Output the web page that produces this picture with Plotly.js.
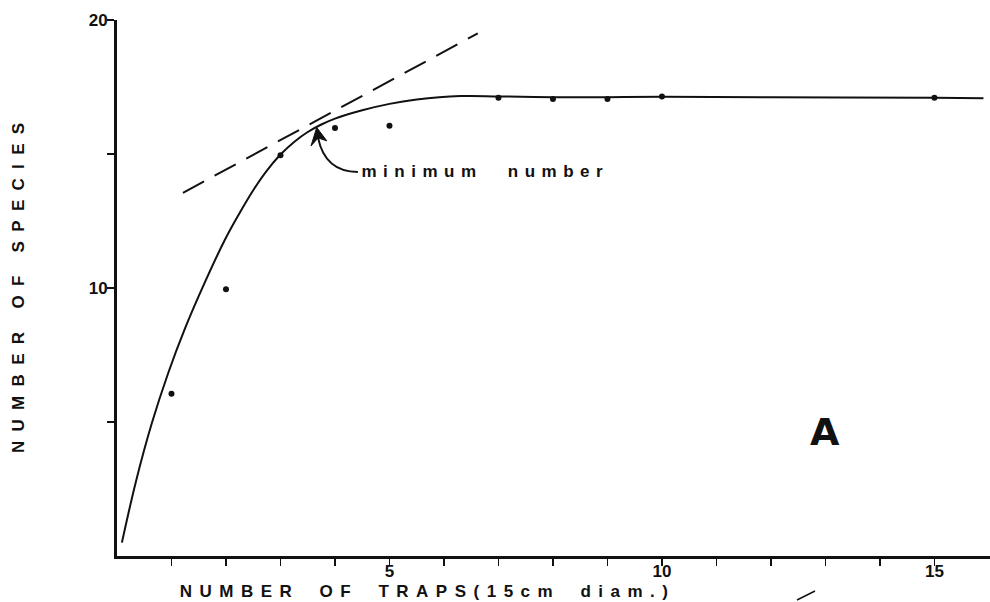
<!DOCTYPE html>
<html>
<head>
<meta charset="utf-8">
<script src="https://cdn.plot.ly/plotly-3.0.1.min.js"></script>
<style>
  html, body { margin: 0; padding: 0; background: #fff; }
  #chart { width: 990px; height: 602px; }
  .annotation[data-index="0"] text { letter-spacing: 7.5px; word-spacing: 8px; }
  .annotation[data-index="1"] text { letter-spacing: 9.3px; word-spacing: 0px; }
  .annotation[data-index="2"] text { letter-spacing: 6.5px; word-spacing: 14px; }
</style>
</head>
<body>
<div id="chart"></div>
<script>
// Observed data points (number of traps vs number of species)
const trapCounts = [1, 2, 3, 4, 5, 7, 8, 9, 10, 15];
const speciesCounts = [6.05, 9.95, 14.95, 15.97, 16.05, 17.1, 17.05, 17.05, 17.15, 17.1];

// Hand-drawn fitted curve
const curveX = [0.09, 0.35, 0.64, 0.94, 1.25, 1.55, 1.98, 2.25, 2.5, 2.75, 3.0, 3.25, 3.5, 3.75, 4.0, 4.5, 5.0, 5.5, 6.3, 7, 8, 9, 10, 12, 15, 15.9];
const curveY = [0.5, 2.8, 4.96, 6.83, 8.5, 9.93, 11.8, 12.8, 13.65, 14.38, 14.98, 15.45, 15.82, 16.1, 16.32, 16.63, 16.87, 17.03, 17.16, 17.15, 17.12, 17.12, 17.14, 17.12, 17.1, 17.08];

// Dashed tangent line
const tangentX = [1.21, 6.62];
const tangentY = [13.55, 19.5];

// Axis ticks
const xTickVals = [1, 2, 3, 4, 5, 6, 7, 8, 9, 10, 11, 12, 13, 14, 15];
const xTickText = ["", "", "", "", "5", "", "", "", "", "10", "", "", "", "", "15"];
const yTickVals = [5, 10, 15, 20];
const yTickText = ["", "10", "", "20"];

const FONT = "Liberation Sans, Arial, Helvetica, sans-serif";

const traces = [
  {
    x: curveX, y: curveY, type: "scatter", mode: "lines",
    line: { color: "#111", width: 2, shape: "spline", smoothing: 1 },
    hoverinfo: "skip", showlegend: false
  },
  {
    x: tangentX, y: tangentY, type: "scatter", mode: "lines",
    line: { color: "#111", width: 2, dash: "24px,12px" },
    hoverinfo: "skip", showlegend: false
  },
  {
    x: trapCounts, y: speciesCounts, type: "scatter", mode: "markers",
    marker: { color: "#111", size: 6 },
    showlegend: false
  }
];

const layout = {
  width: 990, height: 602,
  margin: { l: 117, r: 0, t: 20, b: 46 },
  paper_bgcolor: "#fff", plot_bgcolor: "#fff",
  showlegend: false,
  font: { family: FONT, color: "#111" },
  xaxis: {
    range: [0, 16.02], showgrid: false, zeroline: false,
    showline: true, linecolor: "#111", linewidth: 3,
    ticks: "outside", ticklen: 7, tickwidth: 1.5, tickcolor: "#111",
    tickvals: xTickVals, ticktext: xTickText, ticklabelstandoff: -9,
    tickfont: { family: FONT, size: 17, weight: 700, color: "#111" }
  },
  yaxis: {
    range: [0, 20], showgrid: false, zeroline: false,
    showline: true, linecolor: "#111", linewidth: 3,
    ticks: "outside", ticklen: 7, tickwidth: 1.5, tickcolor: "#111",
    tickvals: yTickVals, ticktext: yTickText, ticklabelstandoff: -4,
    tickfont: { family: FONT, size: 17, weight: 700, color: "#111" }
  },
  annotations: [
    {
      text: "NUMBER OF TRAPS(15cm diam.)", xref: "paper", yref: "paper",
      x: (427 - 117) / 873, y: (556 - 591) / 536, xanchor: "center", yanchor: "middle",
      showarrow: false, font: { family: FONT, size: 17, weight: 700, color: "#111" }
    },
    {
      text: "NUMBER OF SPECIES", xref: "paper", yref: "paper",
      x: (18 - 117) / 873, y: (556 - 284) / 536, xanchor: "center", yanchor: "middle",
      textangle: -90, showarrow: false,
      font: { family: FONT, size: 17, weight: 700, color: "#111" }
    },
    {
      text: "minimum number", xref: "x", yref: "y",
      x: 6.77, y: 14.33, xanchor: "center", yanchor: "middle",
      showarrow: false, font: { family: FONT, size: 17, weight: 700, color: "#111" }
    },
    {
      text: "A", xref: "x", yref: "y",
      x: 12.99, y: 4.63, xanchor: "center", yanchor: "middle",
      showarrow: false, font: { family: "DejaVu Sans, sans-serif", size: 38, weight: 700, color: "#111" }
    }
  ],
  shapes: [
    {
      type: "path", xref: "x", yref: "y",
      path: "M 4.42,14.33 Q 3.82,14.33 3.69,15.6",
      line: { color: "#111", width: 2 }
    },
    {
      type: "path", xref: "x", yref: "y",
      path: "M 3.665,15.99 L 3.56,15.3 L 3.69,15.6 L 3.85,15.49 Z",
      fillcolor: "#111", line: { color: "#111", width: 1 }
    },
    {
      type: "line", xref: "paper", yref: "paper",
      x0: (797 - 117) / 873, y0: (556 - 600) / 536,
      x1: (815 - 117) / 873, y1: (556 - 591) / 536,
      line: { color: "#111", width: 1.5 }
    }
  ]
};

Plotly.newPlot("chart", traces, layout, { staticPlot: true, displayModeBar: false });
</script>
</body>
</html>
